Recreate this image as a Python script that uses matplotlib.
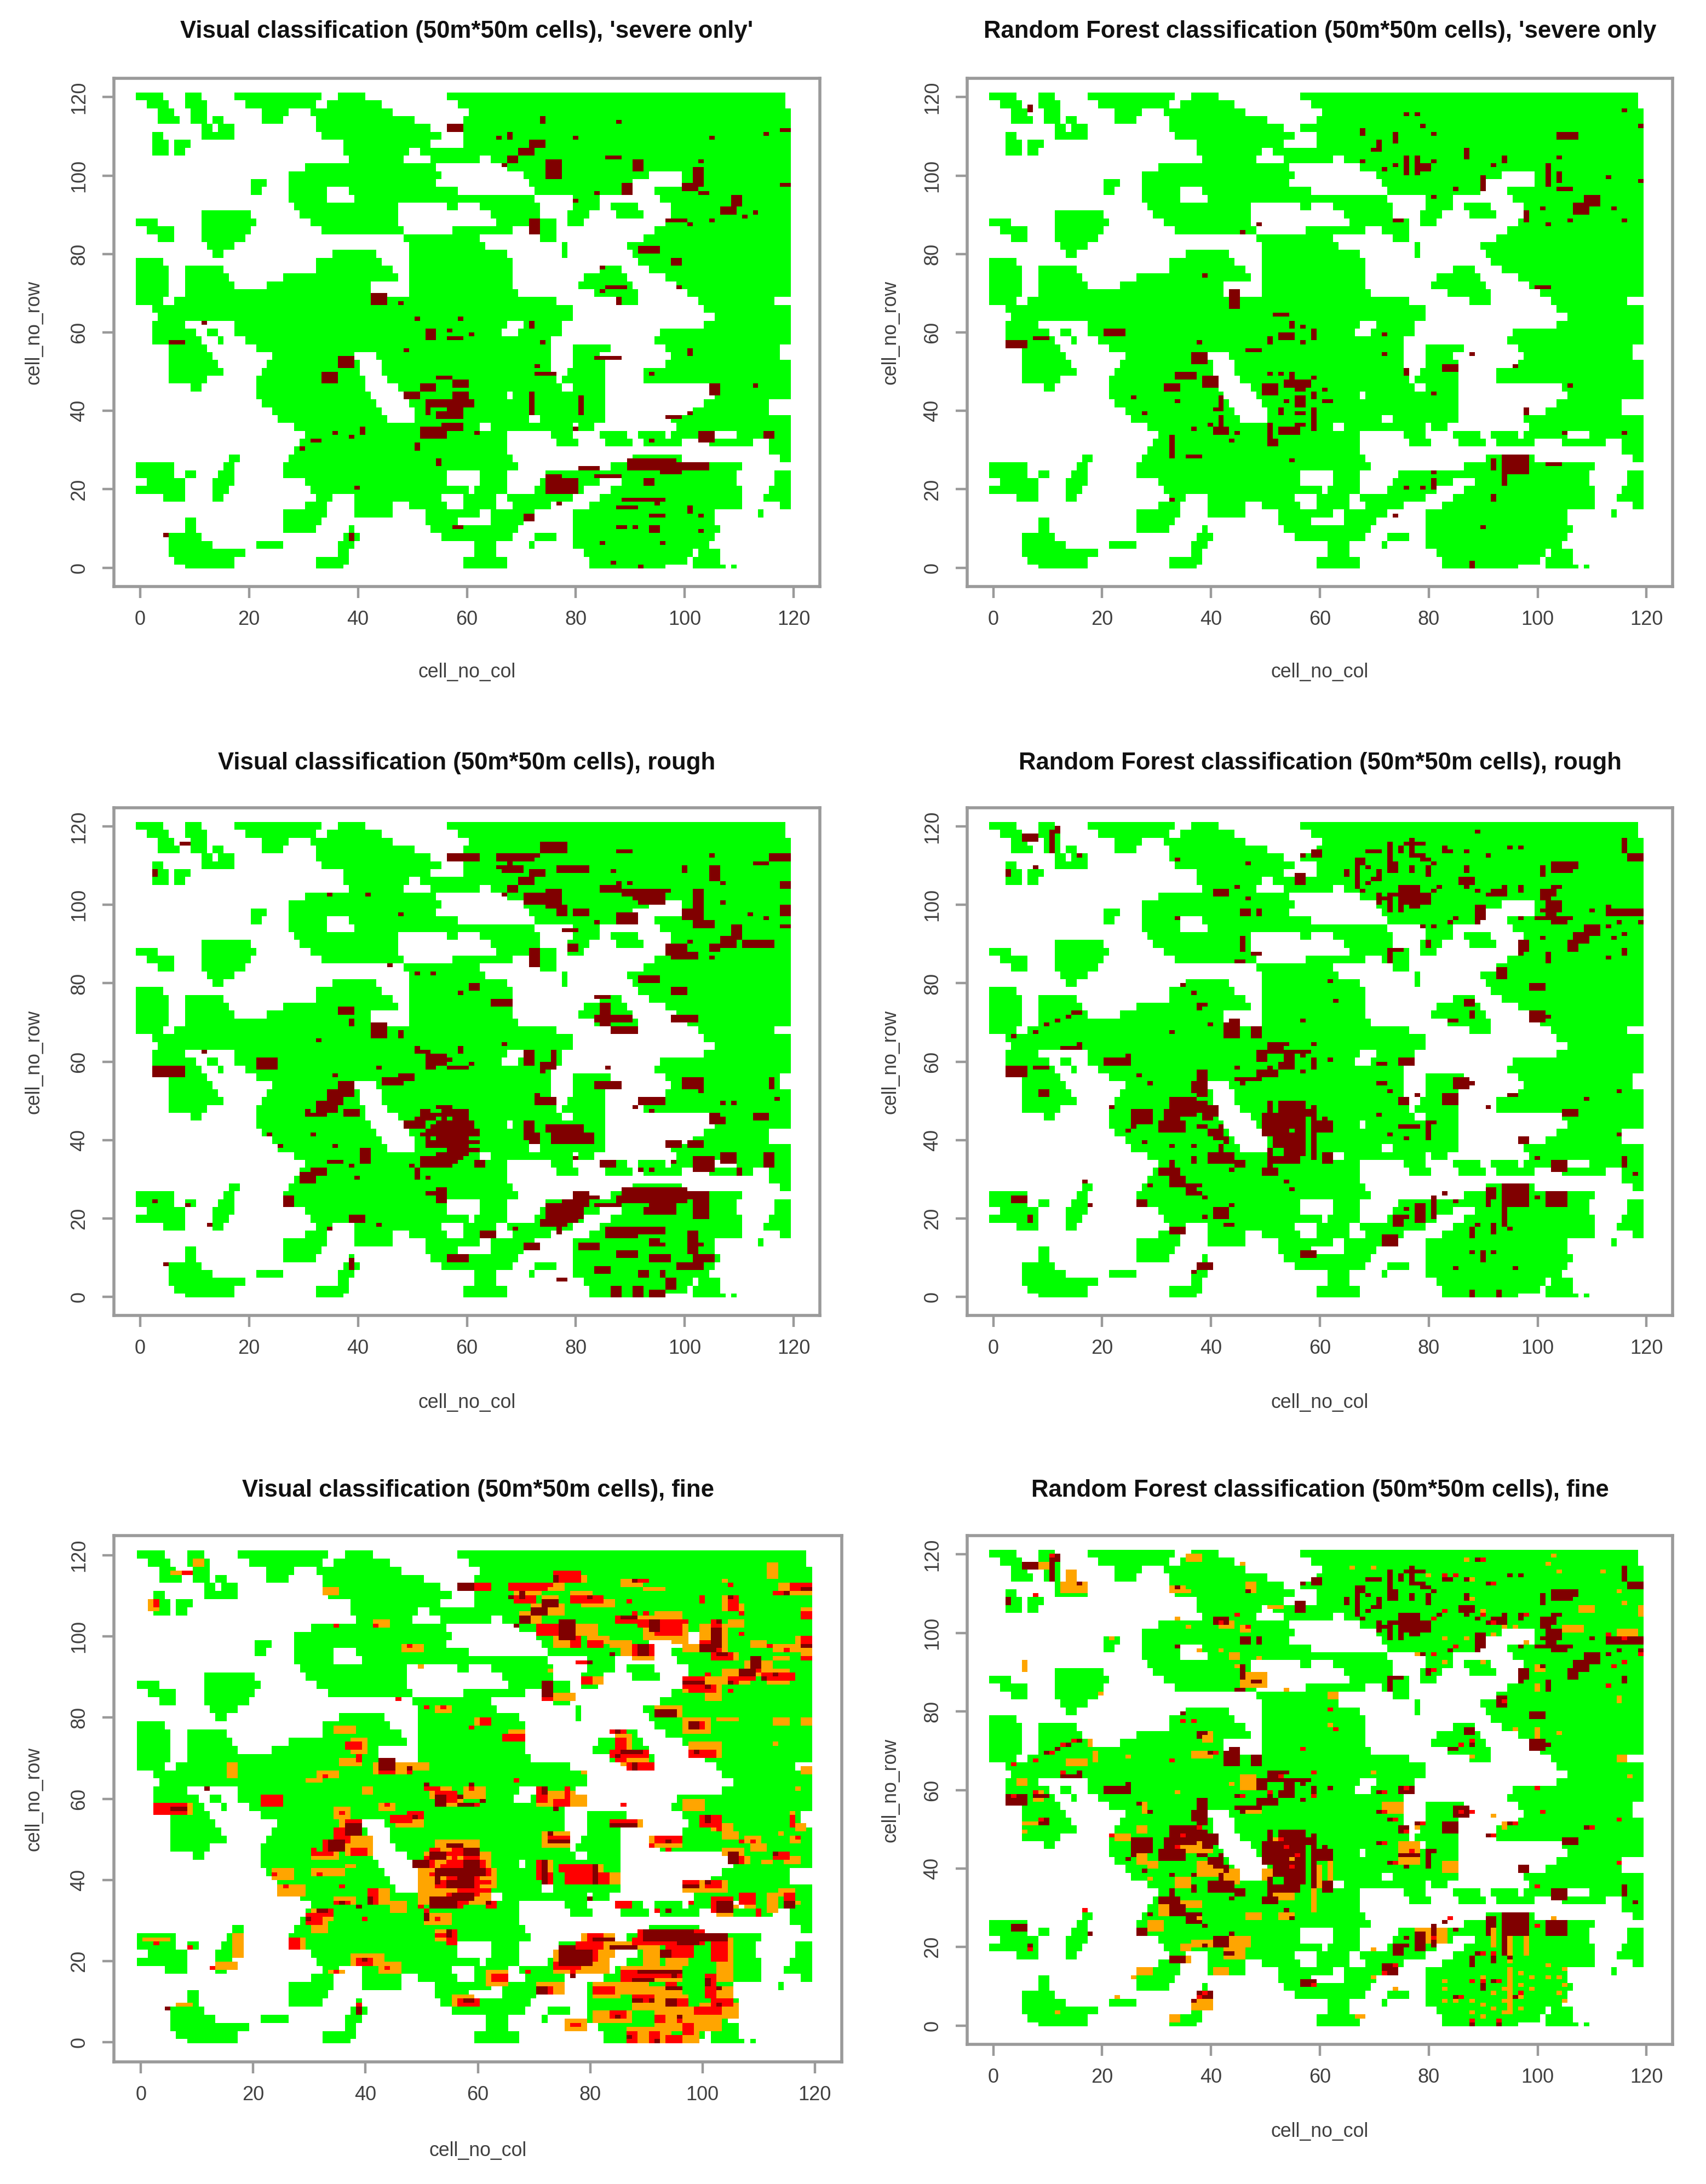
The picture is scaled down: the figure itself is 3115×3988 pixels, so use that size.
import numpy as np
import matplotlib
matplotlib.use("Agg")
import matplotlib.pyplot as plt
from matplotlib.colors import ListedColormap

plt.rcParams["font.family"] = ["Liberation Sans", "DejaVu Sans"]

W, H = 3115, 3988

# forest mask, one entry per two rows: row -> green column runs
green_rows = {
    120: [(0, 4), (9, 11), (18, 33), (37, 41), (57, 118)],
    118: [(2, 5), (9, 12), (20, 32), (35, 44), (59, 118)],
    116: [(4, 6), (10, 12), (23, 27), (32, 46), (61, 119)],
    114: [(4, 7), (10, 12), (14, 15), (23, 26), (33, 50), (60, 119)],
    112: [(12, 13), (15, 17), (33, 53), (57, 119)],
    110: [(3, 4), (12, 17), (34, 55), (60, 119)],
    108: [(3, 5), (7, 9), (38, 53), (60, 119)],
    106: [(3, 5), (7, 8), (38, 49), (52, 119)],
    104: [(39, 48), (54, 62), (65, 119)],
    102: [(31, 54), (68, 119)],
    100: [(28, 55), (71, 93), (100, 119)],
    98: [(21, 23), (28, 54), (72, 90), (100, 119)],
    96: [(21, 22), (28, 34), (39, 58), (73, 89), (95, 119)],
    94: [(28, 34), (40, 72), (80, 84), (96, 119)],
    92: [(29, 47), (57, 58), (63, 73), (80, 84), (87, 91), (98, 119)],
    90: [(12, 20), (30, 47), (65, 73), (79, 82), (88, 92), (98, 119)],
    88: [(0, 3), (12, 21), (32, 47), (66, 76), (79, 81), (97, 119)],
    86: [(2, 6), (12, 20), (34, 48), (58, 68), (72, 76), (95, 119)],
    84: [(4, 6), (12, 19), (49, 62), (74, 76), (93, 119)],
    82: [(13, 17), (50, 63), (78, 78), (90, 119)],
    80: [(14, 15), (36, 43), (50, 67), (78, 78), (91, 119)],
    78: [(0, 4), (33, 44), (50, 68), (92, 119)],
    76: [(0, 5), (9, 15), (33, 46), (50, 68), (85, 88), (94, 119)],
    74: [(0, 5), (9, 16), (27, 47), (50, 68), (82, 89), (97, 119)],
    72: [(0, 5), (9, 17), (24, 42), (50, 68), (81, 90), (99, 119)],
    70: [(0, 5), (9, 42), (50, 69), (84, 91), (101, 119)],
    68: [(0, 4), (7, 76), (88, 91), (103, 116)],
    66: [(3, 79), (104, 119)],
    64: [(4, 79), (106, 119)],
    62: [(3, 8), (18, 67), (71, 77), (104, 119)],
    60: [(3, 10), (13, 14), (18, 66), (70, 77), (96, 119)],
    58: [(3, 11), (15, 15), (20, 75), (95, 119)],
    56: [(6, 12), (22, 75), (80, 86), (97, 117)],
    54: [(6, 13), (25, 39), (44, 75), (80, 84), (98, 117)],
    52: [(6, 14), (24, 40), (45, 75), (80, 85), (97, 119)],
    50: [(6, 15), (23, 40), (45, 75), (79, 85), (93, 119)],
    48: [(6, 12), (22, 41), (46, 76), (78, 85), (93, 119)],
    46: [(10, 11), (22, 41), (48, 77), (80, 85), (105, 119)],
    44: [(22, 42), (49, 67), (69, 85), (106, 119)],
    42: [(23, 43), (50, 85), (104, 115)],
    40: [(25, 44), (51, 85), (102, 115)],
    38: [(26, 45), (51, 71), (74, 85), (98, 119)],
    36: [(29, 62), (65, 79), (81, 83), (99, 119)],
    34: [(31, 67), (76, 79), (85, 89), (92, 96), (98, 105), (110, 119)],
    32: [(30, 67), (77, 80), (86, 90), (93, 96), (97, 99), (105, 112), (116, 119)],
    30: [(29, 67), (116, 119)],
    28: [(17, 18), (28, 68), (91, 99), (118, 119)],
    26: [(0, 6), (16, 17), (27, 69), (87, 110)],
    24: [(0, 6), (9, 10), (15, 17), (27, 56), (63, 67), (75, 109), (117, 119)],
    22: [(2, 8), (14, 17), (31, 56), (63, 67), (74, 84), (89, 109), (117, 119)],
    20: [(0, 8), (14, 16), (32, 60), (62, 67), (73, 81), (87, 110), (116, 119)],
    18: [(5, 8), (14, 15), (33, 35), (40, 55), (60, 65), (68, 79), (85, 110), (115, 119)],
    16: [(31, 34), (40, 46), (50, 56), (60, 65), (69, 75), (83, 106), (107, 110), (118, 119)],
    14: [(27, 34), (40, 46), (53, 62), (65, 72), (80, 105), (114, 114)],
    12: [(9, 10), (27, 33), (53, 58), (65, 70), (80, 105)],
    10: [(9, 10), (27, 32), (39, 39), (54, 62), (63, 69), (80, 106)],
    8: [(6, 11), (38, 40), (56, 63), (64, 68), (73, 76), (80, 105)],
    6: [(6, 13), (22, 26), (37, 39), (62, 65), (72, 72), (80, 104)],
    4: [(6, 17), (18, 19), (37, 38), (62, 65), (82, 101), (103, 106)],
    2: [(7, 17), (33, 38), (60, 67), (83, 100), (102, 106)],
    0: [(9, 17), (33, 37), (60, 67), (83, 96), (102, 107), (109, 109)],
}

# damage cells: (col, row) or (col0, col1, row0, row1)
visual_severe = [
    (57, 59, 111, 112), (74, 74, 113, 114), (88, 113), (80, 109), (66, 109), (68, 68, 109, 110),
    (72, 74, 107, 108), (70, 72, 105, 106), (68, 69, 103, 104), (67, 102), (75, 77, 99, 103),
    (86, 88, 104, 104), (91, 92, 101, 103), (105, 109), (115, 110), (118, 119, 111, 111), (103, 103),
    (102, 103, 97, 101), (100, 102, 96, 97), (103, 104, 95, 95), (118, 119, 97, 97), (89, 90, 95, 97),
    (84, 95), (80, 93), (109, 110, 92, 94), (107, 109, 90, 91), (113, 90), (111, 89), (105, 88), (101, 87),
    (97, 100, 88, 88), (72, 73, 85, 88), (92, 95, 80, 81), (98, 99, 77, 78), (85, 76), (86, 89, 71, 71),
    (85, 70), (88, 88, 67, 68), (99, 71), (43, 45, 67, 69), (48, 67), (51, 63), (53, 54, 58, 60), (59, 63),
    (57, 60), (57, 59, 58, 58), (61, 59), (72, 72, 61, 62), (74, 57), (49, 55), (12, 62), (6, 8, 57, 57),
    (101, 101, 54, 55), (84, 88, 53, 53), (73, 51), (73, 76, 49, 49), (94, 49), (37, 39, 51, 53),
    (34, 36, 47, 49), (105, 106, 44, 46), (113, 46), (72, 72, 39, 44), (81, 81, 39, 43), (80, 35),
    (97, 99, 38, 38), (101, 39), (103, 105, 32, 34), (115, 116, 33, 34), (94, 32),
    (52, 54, 45, 46), (55, 57, 48, 48), (58, 60, 46, 47), (49, 51, 43, 44), (58, 61, 41, 42), (58, 60, 43, 44),
    (53, 57, 41, 42), (53, 53, 39, 40), (55, 59, 38, 39), (57, 59, 39, 41), (56, 59, 35, 36),
    (52, 56, 33, 35), (62, 34), (36, 34), (41, 41, 34, 35), (39, 33), (32, 33, 32, 32), (30, 30),
    (51, 51, 30, 31), (55, 55, 26, 27), (40, 20), (90, 98, 25, 27), (96, 99, 24, 26), (100, 104, 25, 26),
    (93, 94, 21, 22), (81, 84, 25, 25), (84, 88, 23, 23), (75, 77, 21, 23), (78, 80, 21, 22),
    (75, 80, 19, 20), (77, 16), (89, 96, 17, 17), (88, 91, 15, 15), (95, 16), (94, 96, 13, 13),
    (101, 101, 14, 15), (103, 13), (71, 72, 12, 13), (58, 59, 10, 10), (88, 89, 10, 10), (91, 10),
    (94, 95, 9, 10), (103, 9), (85, 6), (96, 6), (87, 1), (92, 0), (39, 39, 7, 8), (5, 8),
]

forest_severe = [
    (7, 7, 116, 117), (68, 68, 110, 111), (71, 71, 106, 108), (74, 74, 108, 110), (70, 106), (76, 115),
    (78, 115), (79, 112), (81, 110), (68, 103), (72, 101), (74, 102), (76, 76, 100, 104), (78, 78, 100, 104),
    (79, 80, 101, 102), (81, 103), (87, 87, 104, 106), (92, 102), (94, 94, 103, 104), (90, 90, 96, 99),
    (85, 96), (81, 94), (104, 107, 109, 110), (104, 104), (102, 102, 97, 102), (104, 104, 98, 100),
    (104, 106, 96, 96), (113, 99), (119, 98), (119, 112), (116, 116), (107, 109, 90, 92), (109, 111, 92, 94),
    (114, 91), (116, 88), (106, 88), (102, 87), (101, 91), (98, 98, 88, 90), (74, 75, 88, 88), (49, 87), (46, 85),
    (39, 74), (44, 45, 66, 70), (100, 102, 71, 71), (52, 54, 64, 64), (55, 55, 61, 62), (57, 61),
    (59, 59, 58, 60), (53, 55, 58, 59), (57, 57), (51, 51, 57, 58), (47, 49, 55, 55), (72, 59), (72, 54),
    (88, 54), (83, 85, 50, 51), (76, 76, 49, 50), (96, 51), (81, 44), (106, 46), (98, 98, 39, 40),
    (105, 34), (116, 34), (3, 6, 56, 57), (8, 10, 58, 58), (21, 24, 59, 60), (37, 39, 52, 54), (38, 57),
    (34, 37, 48, 49), (39, 41, 46, 48), (32, 34, 45, 46), (34, 42), (26, 43), (28, 39), (41, 42, 40, 40),
    (42, 42, 41, 43), (42, 42, 37, 38), (41, 43, 34, 35), (42, 36), (40, 36), (37, 35), (45, 34), (44, 32),
    (33, 33, 31, 33), (33, 33, 28, 30), (36, 38, 28, 28), (33, 17), (50, 52, 44, 46), (51, 49), (53, 49),
    (54, 57, 46, 47), (55, 55, 48, 49), (56, 58, 46, 47), (56, 57, 45, 45), (59, 48), (56, 57, 41, 43), (54, 42),
    (59, 59, 43, 44), (61, 45), (61, 62, 42, 42), (53, 53, 39, 40), (59, 59, 35, 40), (56, 57, 39, 39),
    (53, 56, 34, 35), (56, 57, 36, 36), (51, 51, 33, 36), (51, 52, 31, 32), (55, 27), (92, 92, 25, 27),
    (94, 94, 21, 28), (95, 98, 24, 28), (102, 104, 26, 26), (81, 24), (81, 81, 20, 22), (79, 20), (76, 20),
    (92, 92, 17, 18), (74, 13), (90, 10), (88, 88, 0, 1),
]

visual_rough = [
    (8, 9, 115, 115), (3, 3, 107, 108), (58, 62, 111, 112), (66, 72, 111, 112), (74, 78, 113, 115), (73, 112),
    (67, 70, 108, 109), (77, 82, 108, 109), (88, 90, 113, 113), (87, 108), (105, 112), (100, 100, 108, 109),
    (105, 106, 106, 109), (107, 105), (113, 115, 110, 110), (116, 119, 111, 112), (85, 88, 103, 104),
    (89, 91, 102, 103), (88, 105), (90, 105), (92, 96, 100, 103), (97, 103), (88, 91, 95, 97), (84, 95),
    (77, 78, 97, 99), (80, 82, 97, 98), (71, 74, 100, 102), (78, 80, 93, 93), (102, 103, 96, 103),
    (100, 101, 97, 98), (102, 105, 94, 95), (107, 100), (118, 119, 104, 105), (118, 119, 98, 99),
    (118, 119, 94, 94), (112, 97), (115, 96), (97, 100, 87, 89), (98, 102, 86, 87), (105, 106, 88, 89),
    (107, 109, 89, 91), (109, 110, 91, 93), (111, 116, 89, 90), (105, 86), (101, 90), (79, 80, 88, 89),
    (72, 73, 84, 87), (92, 94, 80, 81), (98, 100, 77, 78), (98, 102, 70, 71), (61, 62, 78, 79), (59, 77),
    (65, 68, 74, 75), (54, 82), (51, 82), (46, 84), (84, 86, 76, 76), (85, 86, 69, 74), (84, 90, 70, 71),
    (87, 91, 67, 68), (37, 39, 72, 73), (39, 39, 69, 70), (33, 65), (43, 45, 66, 69), (48, 48, 66, 67),
    (42, 102), (35, 102), (48, 97), (51, 53, 62, 62), (53, 56, 59, 61), (56, 60), (59, 59, 62, 63),
    (57, 60, 58, 58), (61, 59), (67, 64), (71, 72, 59, 62), (71, 59), (74, 76, 58, 59), (76, 76, 60, 62),
    (86, 58), (84, 88, 53, 54), (100, 103, 53, 55), (103, 52), (116, 116, 53, 55), (45, 48, 54, 55),
    (48, 50, 55, 56), (44, 58), (36, 56), (22, 25, 58, 60), (3, 8, 56, 58), (12, 62), (37, 39, 52, 54),
    (35, 37, 49, 52), (33, 36, 47, 49), (31, 34, 46, 46), (31, 31, 46, 47), (38, 40, 46, 47), (32, 41), (36, 38),
    (24, 41), (26, 38), (41, 42, 34, 37), (39, 33), (35, 37, 34, 34), (32, 34, 31, 32), (30, 32, 29, 31),
    (40, 30), (52, 53, 47, 47), (56, 59, 47, 47), (52, 54, 46, 46), (55, 60, 46, 46), (51, 53, 45, 45), (56, 45),
    (58, 60, 45, 45), (50, 52, 44, 44), (55, 61, 44, 44), (50, 52, 43, 43), (54, 57, 43, 43), (58, 61, 43, 43),
    (53, 56, 42, 42), (58, 62, 42, 42), (52, 53, 41, 41), (57, 62, 41, 41), (53, 40), (55, 60, 40, 40),
    (54, 55, 39, 39), (58, 62, 39, 39), (53, 55, 38, 38), (57, 38), (59, 60, 38, 38), (57, 62, 37, 37),
    (55, 60, 36, 36), (54, 59, 35, 35), (52, 58, 34, 34), (62, 63, 33, 34), (52, 55, 33, 33), (57, 33), (50, 33),
    (51, 32), (53, 30), (53, 56, 26, 26), (55, 56, 24, 27), (71, 72, 40, 44), (72, 73, 39, 41), (75, 81, 42, 43),
    (76, 83, 39, 41), (73, 76, 49, 50), (80, 35), (85, 87, 33, 34), (92, 96, 49, 50), (91, 48), (94, 47),
    (105, 107, 44, 45), (113, 115, 45, 46), (109, 49), (107, 49), (117, 50), (97, 99, 38, 39), (101, 103, 38, 39),
    (102, 105, 32, 35), (107, 109, 34, 36), (115, 116, 33, 36), (110, 110, 31, 32), (98, 34), (92, 32),
    (89, 97, 26, 27), (92, 100, 24, 27), (94, 98, 21, 25), (100, 104, 25, 26), (102, 104, 20, 24), (88, 92, 24, 25),
    (75, 78, 21, 23), (78, 81, 20, 24), (74, 78, 18, 19), (80, 82, 23, 26), (77, 77, 16, 17), (84, 87, 23, 23),
    (86, 96, 16, 17), (86, 90, 15, 15), (81, 84, 12, 13), (101, 102, 11, 16), (94, 95, 13, 14), (88, 91, 10, 11),
    (95, 97, 9, 10), (102, 105, 9, 10), (100, 102, 8, 8), (92, 93, 5, 6), (97, 98, 2, 4), (96, 5), (87, 88, 0, 2),
    (91, 92, 0, 2), (94, 96, 0, 1), (99, 103, 7, 8), (84, 86, 6, 7), (77, 78, 4, 4), (71, 73, 12, 13), (69, 17),
    (63, 65, 15, 16), (57, 60, 9, 10), (3, 24), (9, 23), (13, 18), (44, 18), (35, 17), (39, 41, 19, 20),
    (27, 28, 23, 25), (39, 39, 7, 9), (5, 8),
]

forest_rough = [
    (6, 8, 116, 117), (11, 11, 113, 118), (12, 12, 118, 119), (16, 112), (3, 3, 107, 108), (8, 109), (34, 111),
    (34, 96), (47, 110), (56, 57, 105, 107), (41, 43, 102, 103), (45, 104), (47, 101), (46, 47, 97, 98),
    (49, 49, 97, 98), (46, 46, 88, 91), (48, 87), (45, 46, 85, 85), (35, 79), (37, 77), (38, 38, 73, 74),
    (40, 69), (33, 67), (43, 45, 66, 69), (48, 49, 66, 68), (57, 70), (62, 80), (63, 75), (59, 64),
    (51, 53, 62, 64), (54, 54, 58, 62), (55, 55, 58, 62), (56, 58, 62, 62), (59, 60), (62, 60), (49, 50, 60, 62),
    (45, 58), (45, 49, 55, 55), (46, 54), (49, 52, 56, 57), (51, 58), (15, 16, 72, 72), (14, 71), (12, 70), (10, 69),
    (8, 67), (4, 66), (3, 6, 56, 58), (8, 9, 58, 58), (13, 16, 63, 63), (16, 64), (9, 10, 51, 52), (7, 7, 19, 20),
    (4, 6, 24, 25), (18, 23), (17, 29), (22, 25, 59, 60), (25, 61), (27, 56), (29, 54), (22, 48), (25, 42),
    (26, 29, 44, 47), (28, 39), (38, 39, 51, 57), (33, 37, 46, 50), (38, 39, 47, 49), (32, 34, 44, 47),
    (31, 35, 42, 44), (39, 40, 45, 48), (40, 42, 41, 42), (38, 39, 43, 43), (33, 38), (37, 38), (43, 43, 39, 40),
    (40, 44, 34, 36), (45, 46, 33, 34), (37, 37, 34, 35), (31, 34, 31, 32), (33, 33, 29, 34), (34, 35, 28, 30),
    (36, 37, 26, 28), (38, 26), (39, 25), (29, 28), (27, 28, 23, 24), (44, 23), (41, 43, 20, 22), (39, 20),
    (43, 44, 18, 18), (33, 35, 16, 17), (50, 53, 41, 46), (51, 51, 47, 49), (53, 53, 44, 49), (54, 57, 43, 49),
    (52, 55, 38, 41), (56, 57, 38, 42), (59, 59, 35, 48), (52, 56, 34, 35), (54, 57, 36, 37), (50, 51, 31, 32),
    (51, 51, 33, 37), (60, 62, 42, 44), (61, 62, 34, 36), (54, 29), (55, 27), (59, 60, 112, 113), (57, 112),
    (65, 65, 107, 108), (67, 67, 104, 111), (69, 70, 113, 113), (71, 113), (73, 73, 108, 115), (75, 75, 113, 114),
    (77, 77, 113, 116), (79, 115), (77, 78, 112, 112), (79, 80, 111, 111), (80, 80, 107, 109), (77, 77, 108, 109),
    (69, 109), (71, 107), (69, 105), (83, 83, 113, 114), (84, 113), (87, 113), (91, 112), (95, 114), (97, 114),
    (89, 118), (87, 87, 108, 109), (86, 88, 105, 106), (89, 103), (91, 102), (92, 94, 102, 103), (97, 97, 103, 104),
    (71, 71, 100, 102), (73, 73, 98, 102), (75, 75, 98, 104), (77, 78, 99, 104), (78, 80, 100, 102), (80, 102),
    (82, 104), (84, 95), (89, 89, 95, 99), (80, 80, 89, 90), (79, 94), (73, 73, 85, 88), (93, 94, 81, 83),
    (99, 101, 78, 79), (99, 101, 70, 72), (87, 88, 74, 75), (84, 85, 70, 70), (88, 88, 71, 72), (97, 97, 87, 90),
    (101, 91), (102, 102, 85, 87), (103, 106, 108, 110), (101, 101, 107, 109), (101, 102, 101, 103),
    (103, 103, 102, 104), (103, 103, 97, 100), (100, 102, 96, 96), (101, 98), (103, 105, 95, 96), (97, 96), (110, 98),
    (113, 118, 97, 98), (117, 119, 97, 98), (113, 99), (115, 95), (119, 95), (106, 107, 88, 90), (107, 109, 90, 92),
    (109, 111, 92, 94), (113, 94), (114, 91), (116, 92), (116, 116, 87, 88), (113, 86), (116, 116, 113, 115),
    (117, 118, 111, 112), (119, 111), (71, 59), (75, 77, 59, 60), (71, 54), (73, 52), (78, 51), (75, 75, 49, 50),
    (83, 85, 49, 51), (85, 86, 53, 55), (87, 87, 53, 55), (95, 51), (91, 48), (109, 50), (115, 52),
    (105, 107, 46, 47), (115, 41), (97, 97, 39, 40), (71, 46), (75, 78, 43, 43), (73, 41), (76, 40), (80, 80, 40, 44),
    (100, 35), (103, 105, 32, 34), (116, 116, 33, 35), (118, 31), (85, 24), (83, 26), (81, 25), (79, 79, 19, 23),
    (81, 81, 20, 23), (78, 78, 19, 23), (76, 22), (74, 75, 18, 20), (72, 74, 13, 15), (91, 91, 23, 27),
    (94, 94, 18, 27), (95, 98, 23, 28), (100, 25), (102, 105, 23, 26), (88, 88, 15, 17), (89, 18), (92, 92, 16, 18),
    (95, 17), (88, 11), (90, 90, 9, 11), (92, 11), (96, 7), (85, 7), (88, 88, 0, 1), (93, 93, 0, 1), (57, 59, 10, 11),
    (38, 40, 7, 8), (37, 6),
]

visual_fine = [
    (1, 5, 25, 25), (17, 18, 21, 26), (14, 17, 18, 19), (6, 9, 115, 115), (10, 11, 117, 118), (2, 3, 106, 108),
    (7, 9, 9, 9), (33, 35, 110, 111), (35, 102), (42, 44, 102, 103), (47, 50, 96, 97), (50, 92), (73, 91),
    (79, 82, 88, 89), (74, 77, 84, 85), (53, 55, 81, 82), (60, 62, 78, 79), (66, 68, 75, 76), (35, 38, 76, 77),
    (38, 40, 71, 74), (36, 39, 68, 69), (42, 47, 66, 68), (47, 51, 67, 68), (32, 35, 65, 66), (30, 32, 64, 64),
    (40, 41, 61, 62), (16, 17, 65, 68), (22, 25, 59, 60), (5, 9, 56, 58), (52, 55, 60, 62), (54, 57, 58, 59),
    (52, 53, 62, 62), (58, 61, 60, 62), (43, 45, 57, 58), (46, 50, 53, 55), (35, 37, 55, 57), (36, 39, 50, 54),
    (37, 41, 46, 50), (31, 35, 45, 46), (31, 36, 41, 42), (37, 38, 43, 43), (24, 27, 40, 42), (25, 29, 36, 38),
    (35, 38, 34, 35), (41, 44, 34, 37), (45, 47, 32, 34), (31, 34, 30, 32), (31, 33, 27, 29), (27, 29, 23, 25),
    (38, 43, 19, 21), (43, 46, 17, 19), (34, 36, 17, 17), (53, 60, 47, 49), (51, 62, 43, 46), (50, 63, 38, 42),
    (50, 62, 34, 37), (51, 55, 29, 31), (53, 56, 25, 27),
    (62, 65, 14, 17), (56, 59, 9, 11), (71, 73, 40, 44), (76, 82, 40, 43), (83, 85, 39, 41), (72, 76, 48, 51),
    (71, 77, 58, 61), (75, 79, 58, 60), (79, 66), (85, 89, 53, 54), (86, 58), (91, 96, 48, 50), (85, 87, 71, 75),
    (86, 90, 68, 71), (92, 96, 80, 82), (97, 101, 76, 79), (98, 103, 70, 73), (102, 103, 72, 73), (97, 100, 57, 59),
    (100, 103, 54, 55), (102, 105, 52, 53), (104, 106, 50, 51), (108, 110, 49, 50), (104, 107, 46, 47),
    (109, 111, 47, 48), (105, 108, 44, 45), (113, 115, 45, 46), (116, 117, 49, 50), (115, 117, 44, 45),
    (111, 112, 44, 44), (117, 118, 52, 53), (114, 51), (116, 116, 54, 56), (97, 104, 37, 39), (103, 105, 31, 34),
    (108, 109, 33, 35), (112, 113, 32, 36), (114, 116, 36, 37), (117, 34), (106, 33), (110, 32), (67, 71, 110, 111),
    (74, 79, 113, 114), (72, 75, 111, 112), (70, 75, 105, 107), (68, 71, 103, 105), (72, 74, 108, 109),
    (79, 84, 107, 108), (77, 80, 109, 110), (86, 89, 112, 113), (90, 93, 111, 111), (86, 91, 103, 104),
    (92, 96, 102, 105), (90, 94, 99, 101), (95, 97, 98, 100), (72, 76, 100, 102), (78, 81, 100, 102),
    (74, 78, 97, 99), (80, 83, 98, 99), (84, 87, 97, 98), (86, 88, 95, 96), (88, 91, 94, 96), (92, 97, 100, 103),
    (100, 104, 96, 102), (102, 106, 94, 95), (97, 99, 96, 97), (104, 106, 106, 109), (107, 107, 105, 107),
    (105, 107, 102, 103), (114, 119, 110, 112), (118, 119, 104, 106), (117, 119, 96, 99), (118, 119, 94, 96),
    (113, 116, 96, 97), (113, 115, 94, 94), (109, 111, 97, 98), (112, 113, 114, 117), (104, 113), (100, 109),
    (108, 112, 90, 93), (112, 115, 88, 91), (104, 108, 88, 91), (97, 103, 86, 89), (101, 103, 84, 85),
    (118, 119, 78, 79), (113, 115, 78, 79), (118, 119, 66, 67), (117, 62), (113, 73), (103, 106, 79, 79),
    (90, 92, 18, 25), (94, 97, 19, 24), (103, 105, 15, 25), (86, 96, 15, 18), (82, 90, 12, 14), (91, 96, 11, 13),
    (88, 97, 8, 11), (100, 106, 6, 9), (102, 105, 10, 13), (92, 103, 3, 8), (87, 94, 0, 3), (97, 99, 0, 2),
    (81, 87, 5, 7), (76, 79, 3, 5), (81, 85, 11, 14), (71, 75, 12, 14), (74, 83, 17, 22), (79, 84, 21, 26),
    (84, 90, 23, 24),
]

forest_fine = [
    (8, 11, 116, 117), (14, 15, 113, 115), (13, 17, 110, 112), (36, 38, 118, 119), (38, 118), (46, 117),
    (33, 35, 110, 111), (36, 110), (47, 48, 110, 112), (51, 53, 106, 106), (57, 107), (34, 103), (36, 101),
    (42, 44, 101, 102), (45, 104), (46, 47, 100, 101), (38, 95), (42, 95), (44, 45, 93, 94), (45, 91),
    (46, 50, 86, 89), (49, 93), (54, 85), (62, 63, 83, 84), (20, 84), (6, 6, 90, 92), (22, 98), (66, 116),
    (70, 116), (87, 118), (102, 117), (103, 119), (104, 115), (112, 115), (88, 113), (80, 114), (88, 108),
    (86, 105), (90, 105), (105, 108, 100, 101), (108, 110, 105, 106), (116, 107), (115, 110),
    (119, 119, 104, 106), (115, 118, 99, 100), (87, 98), (83, 98), (92, 99), (94, 101), (96, 101), (78, 94),
    (83, 92), (90, 92), (98, 97), (100, 101, 90, 91), (100, 100, 85, 86), (115, 115, 82, 83), (116, 88),
    (93, 82), (96, 75), (100, 100, 73, 75), (104, 74), (115, 116, 67, 68), (117, 63), (88, 68), (62, 76),
    (22, 24, 60, 60), (22, 60), (19, 19, 67, 69), (14, 17, 66, 67), (18, 18, 71, 72), (8, 9, 57, 59),
    (5, 6, 61, 62), (6, 8, 51, 51), (6, 49), (25, 68), (28, 28, 54, 56), (27, 28, 49, 50), (23, 25, 47, 48),
    (27, 28, 41, 43), (29, 30, 40, 41), (29, 37), (39, 40, 72, 74), (37, 40, 68, 69), (34, 59),
    (46, 48, 60, 63), (44, 61), (47, 49, 54, 55), (35, 40, 44, 48), (38, 41, 38, 41), (42, 45, 36, 39),
    (34, 36, 35, 37), (35, 38, 30, 31), (31, 34, 28, 30), (37, 38, 27, 28), (29, 31, 24, 26), (35, 36, 19, 20),
    (47, 49, 27, 28), (44, 47, 20, 22), (37, 40, 20, 21), (43, 46, 17, 19), (41, 43, 13, 14), (33, 36, 16, 17),
    (27, 29, 13, 14), (26, 12), (23, 7), (12, 3), (33, 34, 1, 2), (37, 40, 4, 6), (67, 68, 2, 2),
    (52, 56, 38, 47), (50, 51, 37, 39), (60, 60, 35, 40), (62, 62, 37, 44), (59, 59, 29, 34), (52, 55, 32, 33),
    (53, 55, 27, 28), (72, 75, 54, 56), (73, 52), (70, 64), (75, 78, 41, 46), (83, 85, 39, 41), (78, 50), (92, 53),
    (94, 94, 50, 51), (78, 83, 21, 24), (88, 3), (88, 6), (90, 2), (90, 5), (90, 12), (92, 4), (92, 8), (92, 11),
    (94, 3), (94, 6), (94, 9), (95, 95, 3, 14), (97, 4), (97, 7), (97, 10), (97, 13), (99, 9), (99, 12),
    (102, 12), (102, 15), (104, 8), (104, 12), (105, 6), (105, 10), (105, 14), (83, 6), (83, 9), (83, 11), (85, 6),
    (94, 94, 18, 28), (92, 92, 20, 27), (95, 95, 16, 23), (98, 98, 18, 24), (103, 103, 25, 27), (70, 12),
    (73, 74, 13, 14), (74, 9), (70, 19),
]

# cells shown bright red in the Random Forest fine panel
forest_red = [
    (11, 119), (8, 109), (17, 29), (7, 19), (42, 102), (45, 104), (47, 101), (35, 77), (37, 77), (22, 48), (53, 63),
    (63, 75), (62, 80), (57, 70), (59, 64), (41, 69), (33, 67), (90, 118), (83, 114), (85, 114), (92, 112),
    (83, 105), (81, 103), (90, 104), (92, 102), (98, 104), (85, 96), (81, 94), (81, 90), (94, 82), (86, 71),
    (88, 72), (72, 59), (76, 60), (72, 54), (74, 52), (79, 51), (76, 49), (72, 46), (74, 41), (77, 44), (86, 54),
    (88, 54), (96, 51), (92, 48), (110, 50), (115, 52), (115, 41), (100, 60), (101, 54), (100, 35), (88, 11),
    (90, 18), (92, 18), (90, 11), (93, 11), (97, 8), (86, 7), (88, 1), (93, 1), (100, 25), (59, 10), (39, 8), (38, 7),
    (74, 15), (72, 13), (84, 27), (81, 22), (54, 45), (56, 43), (53, 47), (55, 40), (38, 50), (35, 48), (34, 45),
    (46, 58), (51, 59), (59, 58), (9, 52), (4, 58), (8, 59), (13, 64), (15, 72), (13, 71), (11, 69), (8, 67), (4, 66),
    (113, 99), (116, 98), (119, 94), (116, 92), (114, 91), (113, 86),
]

titles = [
    "Visual classification (50m*50m cells), 'severe only'",
    "Random Forest classification (50m*50m cells), 'severe only",
    "Visual classification (50m*50m cells), rough",
    "Random Forest classification (50m*50m cells), rough",
    "Visual classification (50m*50m cells), fine",
    "Random Forest classification (50m*50m cells), fine",
]
ticks = [0, 20, 40, 60, 80, 100, 120]
x_name = "cell_no_col"
y_name = "cell_no_row"

class_colors = ["#FFFFFF", "#00FF00", "#FFA500", "#FF0000", "#800000"]
cmap = ListedColormap(class_colors)

# axes box in pixels: left, right, top, bottom, title y, xlabel y, ylabel x
boxes = [
    (208, 1497, 143, 1071, 58, 1228, 62),
    (1766, 3054, 143, 1071, 58, 1228, 1626),
    (208, 1497, 1475, 2402, 1394, 2561, 62),
    (1766, 3054, 1475, 2402, 1394, 2561, 1626),
    (208, 1537, 2804, 3765, 2722, 3927, 62),
    (1766, 3054, 2804, 3733, 2722, 3892, 1626),
]


def base_grid():
    grid = np.zeros((121, 120), dtype=int)
    for row, runs in green_rows.items():
        for c0, c1 in runs:
            grid[max(row - 1, 0):row + 1, c0:c1 + 1] = 1
    return grid


def fill(grid, cells, value):
    for cell in cells:
        if len(cell) == 2:
            c0, c1, r0, r1 = cell[0], cell[0], cell[1], cell[1]
        else:
            c0, c1, r0, r1 = cell
        grid[r0:r1 + 1, c0:c1 + 1] = value


layers = [
    [(visual_severe, 4)],
    [(forest_severe, 4)],
    [(visual_rough, 4), (visual_severe, 4)],
    [(forest_rough, 4), (forest_severe, 4)],
    [(visual_fine, 2), (visual_rough, 3), (visual_severe, 4)],
    [(forest_fine, 2), (forest_rough, 4), (forest_severe, 4), (forest_red, 3)],
]

x_edges = np.linspace(-0.75, 119.5, 121)
y_edges = np.linspace(-0.2, 121.17, 122)
grey = "#9a9a9a"

fig = plt.figure(figsize=(W / 100, H / 100), dpi=100, facecolor="white")

for title, box, layer in zip(titles, boxes, layers):
    left, right, top, bottom, title_y, xlab_y, ylab_x = box
    ax = fig.add_axes([left / W, 1 - bottom / H, (right - left) / W, (bottom - top) / H])
    grid = base_grid()
    for cells, value in layer:
        fill(grid, cells, value)
    ax.pcolormesh(x_edges, y_edges, grid, cmap=cmap, vmin=0, vmax=4, linewidth=0, rasterized=True)
    ax.set_xlim(-4.8, 124.8)
    ax.set_ylim(-4.8, 124.8)
    ax.set_xticks(ticks)
    ax.set_yticks(ticks)
    ax.tick_params(length=15, width=3.2, color=grey, labelsize=26, labelcolor="#404040")
    ax.tick_params(axis="x", pad=16)
    ax.tick_params(axis="y", pad=18)
    for lab in ax.get_yticklabels():
        lab.set_rotation(90)
        lab.set_va("center")
    for spine in ax.spines.values():
        spine.set_linewidth(4)
        spine.set_color(grey)
    mid = (left + right) / 2
    fig.text(mid / W, 1 - title_y / H, title, ha="center", va="center", fontsize=31.5,
             fontweight="bold", color="#111111")
    fig.text(mid / W, 1 - xlab_y / H, x_name, ha="center", va="center", fontsize=25.7, color="#404040")
    fig.text(ylab_x / W, 1 - ((top + bottom) / 2) / H, y_name, ha="center", va="center",
             rotation=90, fontsize=25.7, color="#404040")

fig.savefig("out.png", dpi=100, facecolor="white")
